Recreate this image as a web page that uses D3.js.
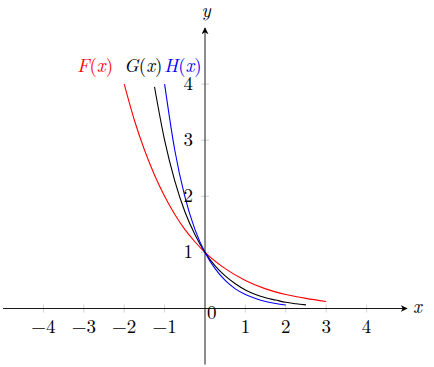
<!DOCTYPE html>
<html>
<head>
<meta charset="utf-8">
<script src="https://cdn.jsdelivr.net/npm/d3@7"></script>
<style>
body { margin: 0; background: #fff; }
</style>
</head>
<body>
<div id="chart"></div>
<script>
// values
var xTicks = [-4, -3, -2, -1, 1, 2, 3, 4];
var yTicks = [1, 2, 3, 4];

var fX = [-2, -1.75, -1.5, -1.25, -1, -0.75, -0.5, -0.25, 0, 0.5, 1, 1.5, 2, 2.5, 3];
var fY = [4, 3.36, 2.83, 2.38, 2, 1.68, 1.41, 1.19, 1, 0.71, 0.5, 0.35, 0.25, 0.18, 0.125];

var gX = [-1.25, -1, -0.75, -0.5, -0.25, 0, 0.25, 0.5, 0.75, 1, 1.25, 1.5, 1.75, 2, 2.25, 2.5];
var gY = [3.95, 3.0, 2.28, 1.73, 1.32, 1, 0.76, 0.58, 0.44, 0.33, 0.25, 0.19, 0.15, 0.11, 0.085, 0.064];

var hX = [-1, -0.75, -0.5, -0.25, 0, 0.25, 0.5, 0.75, 1, 1.25, 1.5, 1.75, 2];
var hY = [4, 2.83, 2, 1.41, 1, 0.71, 0.5, 0.35, 0.25, 0.18, 0.125, 0.088, 0.0625];

var labels = ['F', 'G', 'H'];
var colors = ['#ff0000', '#000000', '#0000ff'];

var w = 434, h = 367;
var font = "'Latin Modern Roman', 'Liberation Serif', serif";
var fs = 19;

var svg = d3.select('#chart')
    .append('svg')
    .attr('width', w)
    .attr('height', h)
    .attr('xmlns', 'http://www.w3.org/2000/svg');

var x = d3.scaleLinear().domain([-5, 5]).range([3, 407]);
var y = d3.scaleLinear().domain([-1, 5]).range([364.6, 28]);

svg.append('defs').append('marker')
    .attr('id', 'arrow')
    .attr('viewBox', '0 0 10 10')
    .attr('refX', 9)
    .attr('refY', 5)
    .attr('markerWidth', 7)
    .attr('markerHeight', 7)
    .attr('markerUnits', 'userSpaceOnUse')
    .attr('orient', 'auto')
  .append('path')
    .attr('d', 'M0,0 L10,5 L0,10 L3,5 Z')
    .attr('fill', '#000');

// tick marks
svg.selectAll('.xtick')
    .data(xTicks)
    .enter()
    .append('line')
    .attr('x1', (d) => x(d))
    .attr('x2', (d) => x(d))
    .attr('y1', y(0) - 4)
    .attr('y2', y(0) + 4)
    .attr('stroke', '#c8c8c8')
    .attr('stroke-width', 0.8);

svg.selectAll('.ytick')
    .data(yTicks)
    .enter()
    .append('line')
    .attr('x1', x(0) - 4)
    .attr('x2', x(0) + 4)
    .attr('y1', (d) => y(d))
    .attr('y2', (d) => y(d))
    .attr('stroke', '#c8c8c8')
    .attr('stroke-width', 0.8);

// curves
var line = d3.line()
    .x((d) => x(d[0]))
    .y((d) => y(d[1]))
    .curve(d3.curveMonotoneX);

var series = [d3.zip(fX, fY), d3.zip(gX, gY), d3.zip(hX, hY)];

svg.selectAll('.curve')
    .data(series)
    .enter()
    .append('path')
    .attr('d', line)
    .attr('fill', 'none')
    .attr('stroke', (d, i) => colors[i])
    .attr('stroke-width', 1.1);

// axes
svg.append('line')
    .attr('x1', x(-5)).attr('x2', x(5))
    .attr('y1', y(0)).attr('y2', y(0))
    .attr('stroke', '#000')
    .attr('stroke-width', 0.9)
    .attr('marker-end', 'url(#arrow)');

svg.append('line')
    .attr('x1', x(0)).attr('x2', x(0))
    .attr('y1', y(-1)).attr('y2', y(5))
    .attr('stroke', '#000')
    .attr('stroke-width', 0.9)
    .attr('marker-end', 'url(#arrow)');

// tick labels
svg.selectAll('.xlab')
    .data(xTicks)
    .enter()
    .append('text')
    .style('font-family', font)
    .attr('x', (d) => x(d))
    .attr('y', y(0) + 24)
    .attr('text-anchor', 'middle')
    .attr('font-size', fs)
    .text((d) => d < 0 ? '\u2212' + Math.abs(d) : d);

svg.selectAll('.ylab')
    .data(yTicks)
    .enter()
    .append('text')
    .style('font-family', font)
    .attr('x', x(0) - 12)
    .attr('y', (d) => y(d) + 6)
    .attr('text-anchor', 'end')
    .attr('font-size', fs)
    .text((d) => d);

svg.append('text')
    .style('font-family', font)
    .attr('x', x(0) + 2)
    .attr('y', y(0) + 10.5)
    .attr('font-size', fs)
    .text('0');

svg.append('text')
    .style('font-family', font)
    .attr('x', 413)
    .attr('y', y(0) + 4)
    .attr('font-size', fs)
    .attr('font-style', 'italic')
    .text('x');

svg.append('text')
    .style('font-family', font)
    .attr('x', x(0) + 1)
    .attr('y', 17)
    .attr('text-anchor', 'middle')
    .attr('font-size', fs)
    .attr('font-style', 'italic')
    .text('y');

// function labels
var labelX = [77, 124, 164];
labels.forEach(function (name, i) {
    var t = svg.append('text')
        .style('font-family', font)
        .attr('x', labelX[i])
        .attr('y', 72)
        .attr('font-size', fs)
        .attr('fill', colors[i]);
    t.append('tspan').attr('font-style', 'italic').text(name);
    t.append('tspan').text('(');
    t.append('tspan').attr('font-style', 'italic').text('x');
    t.append('tspan').text(')');
});
</script>
</body>
</html>
